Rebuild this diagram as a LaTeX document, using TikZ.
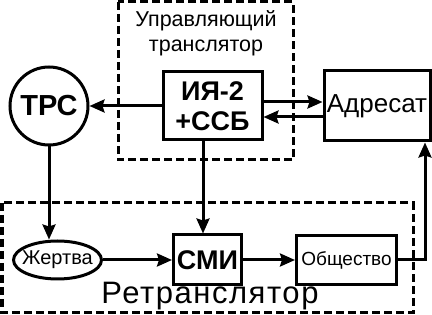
\documentclass[tikz,border=0pt]{standalone}
\usepackage{fontspec}
\setmainfont{Liberation Sans}
\usetikzlibrary{arrows.meta,positioning,shapes.geometric}

\begin{document}
\begin{tikzpicture}[
        x=1pt, y=-1pt,
        blok/.style={rectangle, draw, line width=3pt, inner sep=0pt, align=center},
        krug/.style={circle, draw, line width=3pt, inner sep=0pt, minimum size=78pt},
        oval/.style={ellipse, draw, line width=3pt, inner xsep=-6pt, inner ysep=0pt, minimum width=88pt, minimum height=38pt},
        ramka/.style={draw, line width=3pt, dash pattern=on 8pt off 4pt},
        arrow/.style={-{Stealth[length=15pt, width=13pt, inset=2pt]}, line width=3pt}
    ]
        \useasboundingbox (0,0) rectangle (432,315);
        \draw[ramka] (118,2) rectangle (293,160);
        \draw[ramka] (2,203) rectangle (413,313);
        \node[align=center, font=\fontsize{21.5}{25}\selectfont] (upr) at (206,33) {Управляющий\\транслятор};
        \node[font=\fontsize{31}{31}\selectfont\addfontfeature{LetterSpace=5}] (retr) at (210,296) {Ретранслятор};
        \node[blok, minimum width=99pt, minimum height=68pt, font=\fontsize{27}{30}\selectfont\bfseries] (iya) at (212.5,106) {ИЯ-2\\+ССБ};
        \node[krug, left=72pt of iya, font=\fontsize{29}{29}\selectfont\bfseries] (trs) {ТРС};
        \node[blok, right=59pt of iya, minimum width=106pt, minimum height=70pt, font=\fontsize{26}{26}\selectfont] (adresat) {Адресат};
        \node[blok, below=92pt of iya, xshift=-5pt, minimum width=68pt, minimum height=50pt, font=\fontsize{27}{27}\selectfont\bfseries] (smi) {СМИ};
        \node[oval, left=69pt of smi, font=\fontsize{20}{20}\selectfont] (zhertva) {Жертва};
        \node[blok, right=52pt of smi, minimum width=100pt, minimum height=49pt, font=\fontsize{19}{19}\selectfont] (obsh) {Общество};
        \coordinate (iyaout) at ([xshift=-9.5pt]iya.south);
        \path (obsh.east) ++(27,0) coordinate (ugol);
        \draw[arrow] (iya.west) -- (trs.east);
        \draw[arrow] ([yshift=4pt]iya.east) -- ([yshift=4pt]iya.east -| adresat.west);
        \draw[arrow] ([yshift=-11pt]adresat.west) -- ([yshift=-11pt]adresat.west -| iya.east);
        \draw[arrow] (trs.south) -- (trs.south |- zhertva.north);
        \draw[arrow] (iyaout) -- (iyaout |- smi.north);
        \draw[arrow] (zhertva) -- (smi);
        \draw[arrow] (smi) -- (obsh);
        \draw[arrow] (obsh.east) -- (ugol) -- (ugol |- adresat.south);
    \end{tikzpicture}
\end{document}
